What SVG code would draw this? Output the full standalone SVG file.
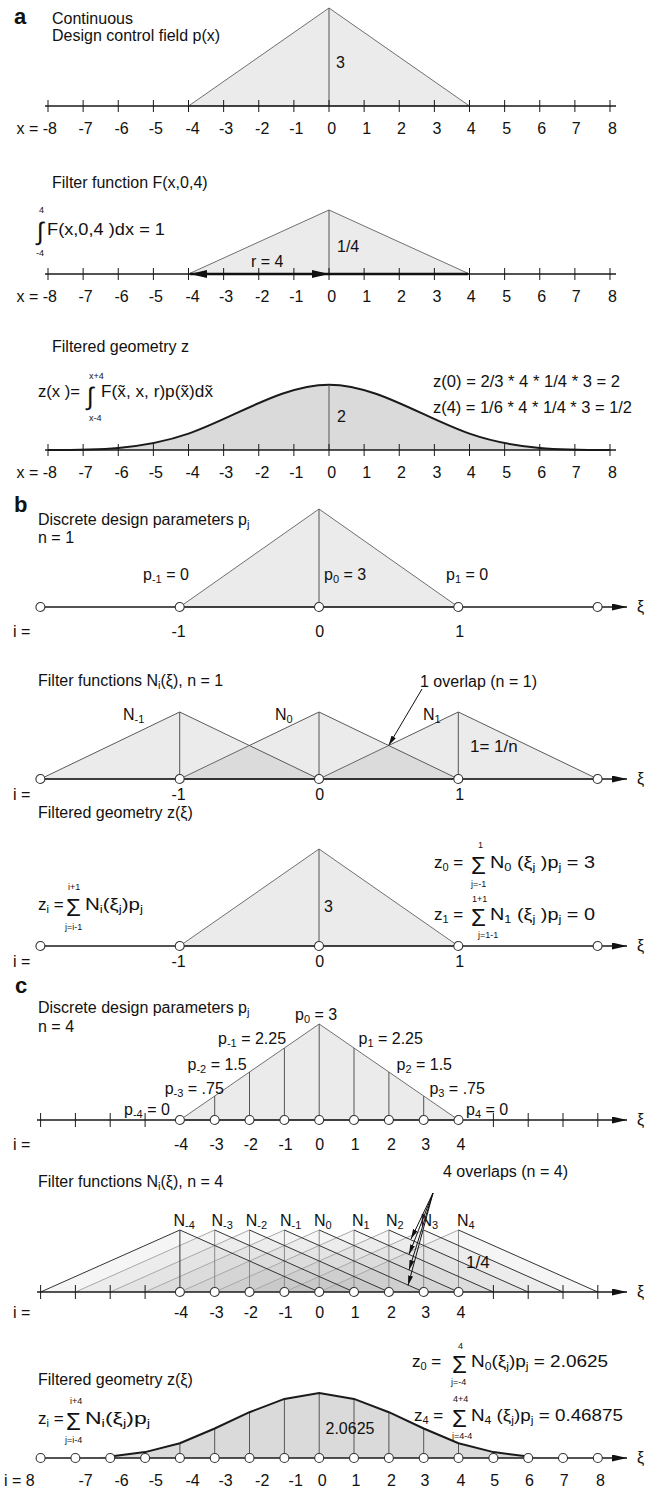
<svg xmlns="http://www.w3.org/2000/svg" width="662" height="1491" viewBox="0 0 662 1491">
<style>
text{font-family:"Liberation Sans",Arial,sans-serif;font-size:16px;fill:#111}
.b{font-weight:bold;font-size:22px}
.m text,text.m{text-anchor:middle}
.n{font-size:15px}
.f{font-size:17px}
.s{font-size:11px}
.l{font-size:9px}
.sg{font-size:24px}
.in{font-size:25px}
.ax{stroke:#1a1a1a;stroke-width:1.5;fill:none}
.tk{stroke:#1a1a1a;stroke-width:1;fill:none}
.tri{fill:#ebebeb;stroke:#707070;stroke-width:1}
.vl{stroke:#555;stroke-width:1;fill:none}
.vl2{stroke:#8a8a8a;stroke-width:1;fill:none}
.nd{fill:#fff;stroke:#333;stroke-width:1.1}
.n1{fill:#9a9a9a;fill-opacity:.2;stroke:#5a5a5a;stroke-width:1}
.n4{fill:#9a9a9a;fill-opacity:.1}
.up{stroke:#a8a8a8;stroke-width:1;fill:none}
.dn{stroke:#333;stroke-width:1;fill:none}
.cv{fill:none;stroke:#1a1a1a;stroke-width:2}
.gf{fill:#dadada}
.con{stroke:#111;stroke-width:1;fill:none}
</style>
<defs>
<marker id="arr" viewBox="0 0 15 7" refX="15" refY="3.5" markerWidth="15" markerHeight="7" markerUnits="userSpaceOnUse" orient="auto"><path d="M0,0L15,3.5L0,7z" fill="#111"/></marker>
<marker id="ars" viewBox="0 0 10 5" refX="10" refY="2.5" markerWidth="10" markerHeight="5" markerUnits="userSpaceOnUse" orient="auto"><path d="M0,0L10,2.5L0,5z" fill="#111"/></marker>
<g id="axA">
<path class="ax" d="M45 0H616"/>
<path class="tk" d="M48 -6V6M83.125 -6V6M118.25 -6V6M153.375 -6V6M188.5 -6V6M223.625 -6V6M258.75 -6V6M293.875 -6V6M329 -6V6M364.125 -6V6M399.25 -6V6M434.375 -6V6M469.5 -6V6M504.625 -6V6M539.75 -6V6M574.875 -6V6M610 -6V6"/>
</g>
<g id="axB">
<path class="ax" d="M40 0H627" marker-end="url(#arr)"/>
<circle class="nd" cx="40.4" cy="0" r="4.5"/><circle class="nd" cx="179.7" cy="0" r="4.5"/><circle class="nd" cx="319" cy="0" r="4.5"/><circle class="nd" cx="458.3" cy="0" r="4.5"/><circle class="nd" cx="597.6" cy="0" r="4.5"/>
</g>
<g id="axC">
<path class="ax" d="M37 0H627" marker-end="url(#arr)"/>
<path class="tk" d="M40.6 -7V7M75.4 -7V7M110.2 -7V7M145.1 -7V7M493.4 -7V7M528.2 -7V7M563 -7V7M597.8 -7V7"/>
<circle class="nd" cx="179.9" cy="0" r="4.5"/><circle class="nd" cx="214.7" cy="0" r="4.5"/><circle class="nd" cx="249.5" cy="0" r="4.5"/><circle class="nd" cx="284.4" cy="0" r="4.5"/><circle class="nd" cx="319.2" cy="0" r="4.5"/><circle class="nd" cx="354" cy="0" r="4.5"/><circle class="nd" cx="388.9" cy="0" r="4.5"/><circle class="nd" cx="423.7" cy="0" r="4.5"/><circle class="nd" cx="458.5" cy="0" r="4.5"/>
</g>
</defs>
<rect width="662" height="1491" fill="#fff"/>

<!-- Panel a1 -->
<g id="a1">
<text class="b" x="14" y="24">a</text>
<text x="52" y="24">Continuous</text>
<text x="52" y="41">Design control field p(x)</text>
<polygon class="tri" points="188.5,106 329,8 469.5,106"/>
<path class="vl" d="M329 8V106"/>
<text x="336" y="68">3</text>
<use href="#axA" y="106"/>
<g class="m n">
<text x="16.5" y="134" style="text-anchor:start">x = -8</text>
<text x="85.5" y="134">-7</text><text x="121.6" y="134">-6</text><text x="155.8" y="134">-5</text><text x="192.5" y="134">-4</text><text x="226.1" y="134">-3</text><text x="262.2" y="134">-2</text><text x="296.4" y="134">-1</text><text x="331.8" y="134">0</text><text x="366.7" y="134">1</text><text x="401.5" y="134">2</text><text x="437" y="134">3</text><text x="471.2" y="134">4</text><text x="506.6" y="134">5</text><text x="541.6" y="134">6</text><text x="576.3" y="134">7</text><text x="612.4" y="134">8</text>
</g>
</g>

<!-- Panel a2 -->
<g id="a2">
<text x="52" y="188">Filter function  F(x,0,4)</text>
<text class="in" x="37" y="240">∫</text>
<text class="l" x="39" y="213">4</text>
<text class="l" x="36" y="256">-4</text>
<text class="f" x="47" y="235" textLength="118" lengthAdjust="spacingAndGlyphs">F(x,0,4 )dx = 1</text>
<polygon class="tri" points="188.5,274 329,210 469.5,274"/>
<path class="vl" d="M329 210V274"/>
<text x="337" y="252">1/4</text>
<text x="251" y="267">r = 4</text>
<use href="#axA" y="274"/>
<path d="M190 274H468" stroke="#111" stroke-width="2.5"/>
<polygon points="190,274 207,270 207,278" fill="#111"/>
<polygon points="329,274 312,270 312,278" fill="#111"/>
<g class="m n">
<text x="16.5" y="302" style="text-anchor:start">x = -8</text>
<text x="85.5" y="302">-7</text><text x="121.6" y="302">-6</text><text x="155.8" y="302">-5</text><text x="192.5" y="302">-4</text><text x="226.1" y="302">-3</text><text x="262.2" y="302">-2</text><text x="296.4" y="302">-1</text><text x="331.8" y="302">0</text><text x="366.7" y="302">1</text><text x="401.5" y="302">2</text><text x="437" y="302">3</text><text x="471.2" y="302">4</text><text x="506.6" y="302">5</text><text x="541.6" y="302">6</text><text x="576.3" y="302">7</text><text x="612.4" y="302">8</text>
</g>
</g>

<!-- Panel a3 -->
<g id="a3">
<text x="52" y="352">Filtered geometry z</text>
<text class="f" x="38" y="397" textLength="42" lengthAdjust="spacingAndGlyphs">z(x )=</text>
<text class="in" x="87" y="405">∫</text>
<text class="l" x="89" y="379">x+4</text>
<text class="l" x="89" y="421">x-4</text>
<text class="f" x="101" y="397" textLength="112" lengthAdjust="spacingAndGlyphs">F(x̃, x, r)p(x̃)dx̃</text>
<text class="f" x="433" y="387" textLength="187" lengthAdjust="spacingAndGlyphs">z(0) = 2/3 * 4 * 1/4 * 3 = 2</text>
<text class="f" x="433" y="413" textLength="199" lengthAdjust="spacingAndGlyphs">z(4) = 1/6 * 4 * 1/4 * 3 = 1/2</text>
<path class="gf" d="M48 450C94.83 450 141.67 450 188.5 433.67C235.33 417.33 282.17 384.67 329 384.67C375.83 384.67 422.67 417.33 469.5 433.67C516.33 450 563.17 450 610 450Z"/>
<path class="cv" d="M48 450C94.83 450 141.67 450 188.5 433.67C235.33 417.33 282.17 384.67 329 384.67C375.83 384.67 422.67 417.33 469.5 433.67C516.33 450 563.17 450 610 450"/>
<path class="vl" d="M329 385V450"/>
<text x="337" y="422">2</text>
<use href="#axA" y="450"/>
<g class="m n">
<text x="16.5" y="478" style="text-anchor:start">x = -8</text>
<text x="85.5" y="478">-7</text><text x="121.6" y="478">-6</text><text x="155.8" y="478">-5</text><text x="192.5" y="478">-4</text><text x="226.1" y="478">-3</text><text x="262.2" y="478">-2</text><text x="296.4" y="478">-1</text><text x="331.8" y="478">0</text><text x="366.7" y="478">1</text><text x="401.5" y="478">2</text><text x="437" y="478">3</text><text x="471.2" y="478">4</text><text x="506.6" y="478">5</text><text x="541.6" y="478">6</text><text x="576.3" y="478">7</text><text x="612.4" y="478">8</text>
</g>
</g>

<!-- Panel b1 -->
<g id="b1">
<text class="b" x="14" y="512">b</text>
<text x="38" y="525">Discrete design parameters p<tspan class="s" dy="3">j</tspan></text>
<text x="38" y="543">n = 1</text>
<polygon class="tri" points="179.7,607 319,509 458.3,607"/>
<path class="vl" d="M319 509V607"/>
<text x="143" y="580">p<tspan class="s" dy="3">-1</tspan><tspan dy="-3"> = 0</tspan></text>
<text x="324" y="580">p<tspan class="s" dy="3">0</tspan><tspan dy="-3"> = 3</tspan></text>
<text x="446" y="580">p<tspan class="s" dy="3">1</tspan><tspan dy="-3"> = 0</tspan></text>
<use href="#axB" y="607"/>
<text x="637" y="612">ξ</text>
<text x="13" y="637">i =</text>
<g class="m"><text x="178.6" y="637">-1</text><text x="319.8" y="637">0</text><text x="459.8" y="637">1</text></g>
</g>

<!-- Panel b2 -->
<g id="b2">
<text x="38" y="686">Filter functions N<tspan class="s" dy="3">i</tspan><tspan dy="-3">(ξ), n = 1</tspan></text>
<text x="420" y="687">1 overlap (n = 1)</text>
<polygon class="n1" points="319,779 458.3,712 597.6,779"/>
<polygon class="n1" points="179.7,779 319,712 458.3,779"/>
<polygon class="n1" points="40.4,779 179.7,712 319,779"/>
<path class="vl" d="M179.7 712V779M319 712V779M458.3 712V779"/>
<text x="123" y="720">N<tspan class="s" dy="3">-1</tspan></text>
<text x="275" y="720">N<tspan class="s" dy="3">0</tspan></text>
<text x="423" y="720">N<tspan class="s" dy="3">1</tspan></text>
<text x="470" y="752" style="font-size:17px">1= 1/n</text>
<use href="#axB" y="779"/>
<text x="637" y="784">ξ</text>
<text x="13" y="800">i =</text>
<g class="m"><text x="178.6" y="800">-1</text><text x="319.8" y="800">0</text><text x="459.8" y="800">1</text></g>
</g>

<!-- Panel b3 -->
<g id="b3">
<text x="38" y="818">Filtered geometry z(ξ)</text>
<polygon class="tri" points="179.7,946 319,849 458.3,946"/>
<path class="vl" d="M319 849V946"/>
<text x="324" y="912">3</text>
<text class="f" x="38" y="910">z<tspan class="s" dy="3">i</tspan><tspan dy="-3"> =</tspan></text>
<text class="sg" x="66" y="916">Σ</text>
<text class="l" x="68" y="890">i+1</text>
<text class="l" x="65" y="930">j=i-1</text>
<text class="f" x="85" y="910" textLength="58" lengthAdjust="spacingAndGlyphs">N<tspan class="s" dy="3">i</tspan><tspan dy="-3">(ξ</tspan><tspan class="s" dy="3">j</tspan><tspan dy="-3">)p</tspan><tspan class="s" dy="3">j</tspan></text>
<text class="f" x="434" y="868">z<tspan class="s" dy="3">0</tspan><tspan dy="-3"> =</tspan></text>
<text class="sg" x="471" y="874">Σ</text>
<text class="l" x="478" y="848">1</text>
<text class="l" x="471" y="887">j=-1</text>
<text class="f" x="490" y="868" textLength="105" lengthAdjust="spacingAndGlyphs">N<tspan class="s" dy="3">0</tspan><tspan dy="-3"> (ξ</tspan><tspan class="s" dy="3">j</tspan><tspan dy="-3"> )p</tspan><tspan class="s" dy="3">j</tspan><tspan dy="-3"> = 3</tspan></text>
<text class="f" x="434" y="920">z<tspan class="s" dy="3">1</tspan><tspan dy="-3"> =</tspan></text>
<text class="sg" x="471" y="926">Σ</text>
<text class="l" x="472" y="902">1+1</text>
<text class="l" x="478" y="938">j=1-1</text>
<text class="f" x="490" y="920" textLength="105" lengthAdjust="spacingAndGlyphs">N<tspan class="s" dy="3">1</tspan><tspan dy="-3"> (ξ</tspan><tspan class="s" dy="3">j</tspan><tspan dy="-3"> )p</tspan><tspan class="s" dy="3">j</tspan><tspan dy="-3"> = 0</tspan></text>
<use href="#axB" y="946"/>
<text x="637" y="951">ξ</text>
<text x="13" y="967">i =</text>
<g class="m"><text x="178.6" y="967">-1</text><text x="319.8" y="967">0</text><text x="459.8" y="967">1</text></g>
</g>

<!-- Panel c1 -->
<g id="c1">
<text class="b" x="15" y="993">c</text>
<text x="38" y="1013">Discrete design parameters p<tspan class="s" dy="3">j</tspan></text>
<text x="38" y="1032">n = 4</text>
<polygon class="tri" points="179.9,1120 319.2,1024 458.5,1120"/>
<path class="vl" d="M214.7 1096V1120M249.5 1072V1120M284.4 1048V1120M319.2 1024V1120M354 1048V1120M388.9 1072V1120M423.7 1096V1120"/>
<text x="295" y="1020">p<tspan class="s" dy="3">0</tspan><tspan dy="-3"> = 3</tspan></text>
<text x="218" y="1044">p<tspan class="s" dy="3">-1</tspan><tspan dy="-3"> = 2.25</tspan></text>
<text x="358.5" y="1044">p<tspan class="s" dy="3">1</tspan><tspan dy="-3"> = 2.25</tspan></text>
<text x="187.5" y="1070">p<tspan class="s" dy="3">-2</tspan><tspan dy="-3"> = 1.5</tspan></text>
<text x="396.5" y="1070">p<tspan class="s" dy="3">2</tspan><tspan dy="-3"> = 1.5</tspan></text>
<text x="164.7" y="1094">p<tspan class="s" dy="3">-3</tspan><tspan dy="-3"> = .75</tspan></text>
<text x="429.4" y="1094">p<tspan class="s" dy="3">3</tspan><tspan dy="-3"> = .75</tspan></text>
<text x="124" y="1115">p<tspan class="s" dy="3">-4</tspan><tspan dy="-3"> = 0</tspan></text>
<text x="466" y="1115">p<tspan class="s" dy="3">4</tspan><tspan dy="-3"> = 0</tspan></text>
<use href="#axC" y="1120"/>
<text x="637" y="1125">ξ</text>
<text x="13" y="1150">i =</text>
<g class="m">
<text x="181" y="1150">-4</text><text x="216.6" y="1150">-3</text><text x="250.8" y="1150">-2</text><text x="285.6" y="1150">-1</text><text x="319.8" y="1150">0</text><text x="355.3" y="1150">1</text><text x="391.4" y="1150">2</text><text x="425.6" y="1150">3</text><text x="461" y="1150">4</text>
</g>
</g>

<!-- Panel c2 -->
<g id="c2">
<text x="38" y="1187">Filter functions N<tspan class="s" dy="3">i</tspan><tspan dy="-3">(ξ), n = 4</tspan></text>
<text x="443" y="1177">4 overlaps (n = 4)</text>
<polygon class="n4" points="319.2,1292 458.5,1230 597.8,1292"/>
<polygon class="n4" points="284.4,1292 423.7,1230 563,1292"/>
<polygon class="n4" points="249.5,1292 388.9,1230 528.2,1292"/>
<polygon class="n4" points="214.7,1292 354,1230 493.4,1292"/>
<polygon class="n4" points="179.9,1292 319.2,1230 458.5,1292"/>
<polygon class="n4" points="145.1,1292 284.4,1230 423.7,1292"/>
<polygon class="n4" points="110.2,1292 249.5,1230 388.9,1292"/>
<polygon class="n4" points="75.4,1292 214.7,1230 354,1292"/>
<polygon class="n4" points="40.6,1292 179.9,1230 319.2,1292"/>
<path class="up" d="M75.4 1292L214.7 1230M110.2 1292L249.5 1230M145.1 1292L284.4 1230M179.9 1292L319.2 1230M214.7 1292L354 1230M249.5 1292L388.9 1230M284.4 1292L423.7 1230M319.2 1292L458.5 1230"/>
<path class="vl2" d="M214.7 1230V1292M249.5 1230V1292M284.4 1230V1292M319.2 1230V1292M354 1230V1292M388.9 1230V1292M423.7 1230V1292M458.5 1230V1292"/>
<path class="dn" d="M40.6 1292L179.9 1230V1292M179.9 1230L319.2 1292M214.7 1230L354 1292M249.5 1230L388.9 1292M284.4 1230L423.7 1292M319.2 1230L458.5 1292M354 1230L493.4 1292M388.9 1230L528.2 1292M423.7 1230L563 1292M458.5 1230L597.8 1292"/>
<text x="173.5" y="1226">N<tspan class="s" dy="3">-4</tspan></text>
<text x="211.5" y="1226">N<tspan class="s" dy="3">-3</tspan></text>
<text x="245.7" y="1226">N<tspan class="s" dy="3">-2</tspan></text>
<text x="280" y="1226">N<tspan class="s" dy="3">-1</tspan></text>
<text x="314" y="1226">N<tspan class="s" dy="3">0</tspan></text>
<text x="352" y="1226">N<tspan class="s" dy="3">1</tspan></text>
<text x="386" y="1226">N<tspan class="s" dy="3">2</tspan></text>
<text x="420.5" y="1226">N<tspan class="s" dy="3">3</tspan></text>
<text x="457" y="1226">N<tspan class="s" dy="3">4</tspan></text>
<text x="466" y="1268" style="font-size:17px">1/4</text>
<use href="#axC" y="1292"/>
<text x="637" y="1297">ξ</text>
<text x="13" y="1318">i =</text>
<g class="m">
<text x="181" y="1318">-4</text><text x="216.6" y="1318">-3</text><text x="250.8" y="1318">-2</text><text x="285.6" y="1318">-1</text><text x="319.8" y="1318">0</text><text x="355.3" y="1318">1</text><text x="391.4" y="1318">2</text><text x="425.6" y="1318">3</text><text x="461" y="1318">4</text>
</g>
</g>

<!-- Panel c3 -->
<g id="c3">
<text x="38" y="1385">Filtered geometry z(ξ)</text>
<text class="f" x="412" y="1367">z<tspan class="s" dy="3">0</tspan><tspan dy="-3"> =</tspan></text>
<text class="sg" x="452" y="1373">Σ</text>
<text class="l" x="458" y="1349">4</text>
<text class="l" x="451" y="1385">j=-4</text>
<text class="f" x="471" y="1367" textLength="137" lengthAdjust="spacingAndGlyphs">N<tspan class="s" dy="3">0</tspan><tspan dy="-3">(ξ</tspan><tspan class="s" dy="3">j</tspan><tspan dy="-3">)p</tspan><tspan class="s" dy="3">j</tspan><tspan dy="-3"> = 2.0625</tspan></text>
<text class="f" x="414" y="1421">z<tspan class="s" dy="3">4</tspan><tspan dy="-3"> =</tspan></text>
<text class="sg" x="452" y="1427">Σ</text>
<text class="l" x="453" y="1402">4+4</text>
<text class="l" x="452" y="1439">j=4-4</text>
<text class="f" x="471" y="1421" textLength="152" lengthAdjust="spacingAndGlyphs">N<tspan class="s" dy="3">4</tspan><tspan dy="-3"> (ξ</tspan><tspan class="s" dy="3">j</tspan><tspan dy="-3">)p</tspan><tspan class="s" dy="3">j</tspan><tspan dy="-3"> = 0.46875</tspan></text>
<text class="f" x="38" y="1424">z<tspan class="s" dy="3">i</tspan><tspan dy="-3"> =</tspan></text>
<text class="sg" x="66" y="1430">Σ</text>
<text class="l" x="70" y="1404">i+4</text>
<text class="l" x="65" y="1443">j=i-4</text>
<text class="f" x="85" y="1424" textLength="65" lengthAdjust="spacingAndGlyphs">N<tspan class="s" dy="3">i</tspan><tspan dy="-3">(ξ</tspan><tspan class="s" dy="3">j</tspan><tspan dy="-3">)p</tspan><tspan class="s" dy="3">j</tspan></text>
<path class="gf" d="M40.6 1458L75.4 1458L110.2 1456.5L145.1 1452.1L179.9 1443.2L214.7 1428.5L249.5 1412.2L284.4 1398.9L319.2 1393L354 1398.9L388.9 1412.2L423.7 1428.5L458.5 1443.2L493.4 1452.1L528.2 1456.5L563 1458L597.8 1458Z"/>
<path class="vl" d="M179.9 1443V1458M214.7 1428.5V1458M249.5 1412V1458M284.4 1399V1458M319.2 1393V1458M354 1399V1458M388.9 1412V1458M423.7 1428.5V1458M458.5 1443V1458"/>
<path class="cv" d="M110.2 1456.5L145.1 1452.1L179.9 1443.2L214.7 1428.5L249.5 1412.2L284.4 1398.9L319.2 1393L354 1398.9L388.9 1412.2L423.7 1428.5L458.5 1443.2L493.4 1452.1L528.2 1456.5"/>
<text x="325.5" y="1434">2.0625</text>
<path class="ax" d="M37 1458H627" stroke-width="2" marker-end="url(#arr)"/>
<circle class="nd" cx="40.6" cy="1458" r="4.5"/><circle class="nd" cx="75.4" cy="1458" r="4.5"/><circle class="nd" cx="110.2" cy="1458" r="4.5"/><circle class="nd" cx="145.1" cy="1458" r="4.5"/><circle class="nd" cx="179.9" cy="1458" r="4.5"/><circle class="nd" cx="214.7" cy="1458" r="4.5"/><circle class="nd" cx="249.5" cy="1458" r="4.5"/><circle class="nd" cx="284.4" cy="1458" r="4.5"/><circle class="nd" cx="319.2" cy="1458" r="4.5"/><circle class="nd" cx="354" cy="1458" r="4.5"/><circle class="nd" cx="388.9" cy="1458" r="4.5"/><circle class="nd" cx="423.7" cy="1458" r="4.5"/><circle class="nd" cx="458.5" cy="1458" r="4.5"/><circle class="nd" cx="493.4" cy="1458" r="4.5"/><circle class="nd" cx="528.2" cy="1458" r="4.5"/><circle class="nd" cx="563" cy="1458" r="4.5"/><circle class="nd" cx="597.8" cy="1458" r="4.5"/>
<text x="637" y="1463">ξ</text>
<text x="4" y="1486">i = 8</text>
<g class="m">
<text x="85.5" y="1486">-7</text><text x="121.6" y="1486">-6</text><text x="155.8" y="1486">-5</text><text x="192.5" y="1486">-4</text><text x="225.5" y="1486">-3</text><text x="262.2" y="1486">-2</text><text x="295.7" y="1486">-1</text><text x="322.3" y="1486">0</text><text x="355.9" y="1486">1</text><text x="391.4" y="1486">2</text><text x="424.9" y="1486">3</text><text x="461" y="1486">4</text><text x="494.6" y="1486">5</text><text x="529.4" y="1486">6</text><text x="564.3" y="1486">7</text><text x="600.4" y="1486">8</text>
</g>
</g>

<!-- Connectors -->
<g id="connectors">
<path class="con" d="M422 689L388.6 745.5" marker-end="url(#ars)"/>
<path class="con" d="M433 1193L411 1239" marker-end="url(#ars)"/>
<path class="con" d="M433 1193L409 1254.5" marker-end="url(#ars)"/>
<path class="con" d="M433 1193L409 1270" marker-end="url(#ars)"/>
<path class="con" d="M433 1193L408 1285.5" marker-end="url(#ars)"/>
</g>
</svg>
